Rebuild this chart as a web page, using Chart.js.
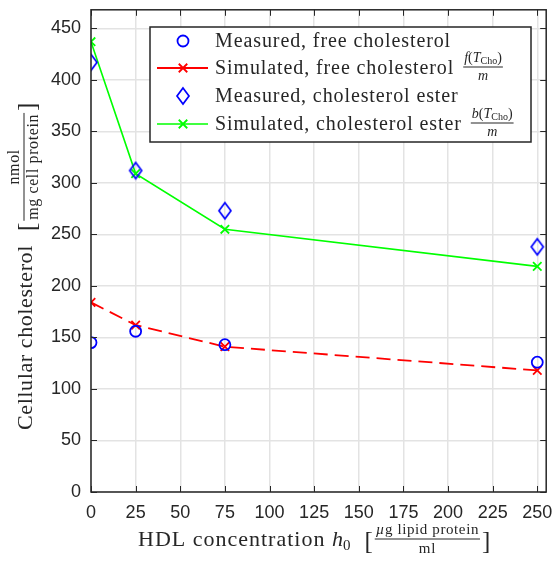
<!DOCTYPE html>
<html>
<head>
<meta charset="utf-8">
<script src="https://cdn.jsdelivr.net/npm/chart.js@4"></script>
<style>
  html, body { margin: 0; padding: 0; background: #fff; }
  #wrap { width: 556px; height: 561px; }
</style>
</head>
<body>
<div id="wrap"><canvas id="chart" width="556" height="561"></canvas></div>
<script>
// HDL concentration (x) and cellular cholesterol readings
const hdl = [0, 25, 75, 250];
const measuredFree = [145, 156, 143, 126];
const simulatedFree = [184, 162, 141, 118];
const measuredEster = [417, 312, 273, 238];
const simulatedEster = [437, 309, 255, 219];

const xTicks = [0, 25, 50, 75, 100, 125, 150, 175, 200, 225, 250];
const yTicks = [0, 50, 100, 150, 200, 250, 300, 350, 400, 450];

const AX = '#262626';
const SERIF = '"Liberation Serif", "Times New Roman", serif';
const SANS = '"Liberation Sans", Arial, sans-serif';

const toPts = (ys) => ys.map((y, i) => ({ x: hdl[i], y }));

// tall hollow diamond marker
function makeDiamond(color) {
  const c = document.createElement('canvas');
  c.width = 18; c.height = 20;
  const g = c.getContext('2d');
  g.strokeStyle = color;
  g.lineWidth = 1.7;
  g.beginPath();
  g.moveTo(9, 2); g.lineTo(15, 10); g.lineTo(9, 18); g.lineTo(3, 10); g.closePath();
  g.stroke();
  return c;
}
const diamond = makeDiamond('#0000ff');

// text runs: {t, f, dy, ls}
function setRun(ctx, r) {
  ctx.font = r.f;
  if ('letterSpacing' in ctx) ctx.letterSpacing = (r.ls || 0) + 'px';
}
function runsWidth(ctx, runs) {
  let w = 0;
  runs.forEach(r => { setRun(ctx, r); w += ctx.measureText(r.t).width; });
  if ('letterSpacing' in ctx) ctx.letterSpacing = '0px';
  return w;
}
function drawRuns(ctx, runs, x, y) {
  runs.forEach(r => {
    setRun(ctx, r);
    ctx.fillText(r.t, x, y + (r.dy || 0));
    x += ctx.measureText(r.t).width;
  });
  if ('letterSpacing' in ctx) ctx.letterSpacing = '0px';
  return x;
}
function fracWidth(ctx, num, den) {
  return Math.max(runsWidth(ctx, num), runsWidth(ctx, den)) + 2;
}
// fraction with its bar on y, starting at x; returns width
function drawFrac(ctx, num, den, x, y, gapUp, gapDown) {
  const w = fracWidth(ctx, num, den);
  const wn = runsWidth(ctx, num), wd = runsWidth(ctx, den);
  ctx.textBaseline = 'alphabetic';
  drawRuns(ctx, num, x + (w - wn) / 2, y - gapUp);
  drawRuns(ctx, den, x + (w - wd) / 2, y + gapDown);
  ctx.fillRect(x, y - 0.5, w, 1);
  return w;
}
// "label [ num/den ]" laid out left to right from x
function drawUnitTitle(ctx, left, num, den, x, y, fracShift) {
  const brk = '25px ' + SERIF;
  ctx.textBaseline = 'alphabetic';
  x = drawRuns(ctx, left, x, y);
  ctx.font = brk;
  const wb = ctx.measureText('[').width;
  x += 14;
  ctx.fillText('[', x, y + 3);
  x += wb + 2;
  x += drawFrac(ctx, num, den, x, y - fracShift, 5, 14) + 2;
  ctx.font = brk;
  ctx.fillText(']', x, y + 3);
}

// axis titles, box, inward ticks and legend
const decorations = {
  id: 'decorations',
  afterDraw(chart) {
    const { ctx, chartArea: a, scales } = chart;
    ctx.save();
    ctx.fillStyle = AX;
    ctx.strokeStyle = AX;

    // box
    ctx.lineWidth = 1.5;
    ctx.strokeRect(a.left, a.top, a.right - a.left, a.bottom - a.top);

    // inward ticks on all sides
    ctx.lineWidth = 1;
    ctx.beginPath();
    xTicks.forEach(v => {
      const px = Math.round(scales.x.getPixelForValue(v)) + 0.5;
      ctx.moveTo(px, a.bottom); ctx.lineTo(px, a.bottom - 6);
      ctx.moveTo(px, a.top); ctx.lineTo(px, a.top + 6);
    });
    yTicks.forEach(v => {
      const py = Math.round(scales.y.getPixelForValue(v)) + 0.5;
      ctx.moveTo(a.left, py); ctx.lineTo(a.left + 6, py);
      ctx.moveTo(a.right, py); ctx.lineTo(a.right - 6, py);
    });
    ctx.stroke();

    const big = '22px ' + SERIF;
    const bigI = 'italic 22px ' + SERIF;

    // x title
    {
      const sm = '15px ' + SERIF, smI = 'italic 15px ' + SERIF;
      const left = [{ t: 'HDL concentration ', f: big, ls: 1 }, { t: 'h', f: bigI }, { t: '0', f: '15px ' + SERIF, dy: 4 }];
      const num = [{ t: 'µ', f: smI, ls: 0.6 }, { t: 'g lipid protein', f: sm, ls: 0.6 }];
      const den = [{ t: 'ml', f: sm, ls: 0.6 }];
      drawUnitTitle(ctx, left, num, den, 138, 546, 7);
    }

    // y title (rotated, reads bottom to top)
    {
      ctx.save();
      ctx.translate(32, 0);
      ctx.rotate(-Math.PI / 2);
      const sm = '16px ' + SERIF;
      const left = [{ t: 'Cellular cholesterol', f: big, ls: 0.6 }];
      const num = [{ t: 'nmol', f: sm, ls: 0.6 }];
      const den = [{ t: 'mg cell protein', f: sm, ls: 0.6 }];
      drawUnitTitle(ctx, left, num, den, -430, 0, 8);
      ctx.restore();
    }

    // legend
    {
      const bx = 150, by = 27, bw = 381, bh = 115;
      ctx.fillStyle = '#fff';
      ctx.fillRect(bx, by, bw, bh);
      ctx.lineWidth = 1.5;
      ctx.strokeStyle = AX;
      ctx.strokeRect(bx, by, bw, bh);

      const rows = chart.data.datasets;
      const rowY = [41, 68, 96, 124];
      rows.forEach((ds, i) => {
        const y = rowY[i];
        if (ds.showLine !== false) {
          ctx.save();
          ctx.strokeStyle = ds.borderColor;
          ctx.lineWidth = ds.borderWidth;
          ctx.beginPath();
          ctx.moveTo(157, y); ctx.lineTo(208, y);
          ctx.stroke();
          ctx.restore();
        }
        ctx.save();
        ctx.strokeStyle = ds.pointBorderColor;
        ctx.fillStyle = 'rgba(0,0,0,0)';
        ctx.lineWidth = ds.pointBorderWidth;
        Chart.helpers.drawPoint(ctx, { pointStyle: ds.pointStyle, radius: ds.pointRadius, borderWidth: ds.pointBorderWidth, rotation: 0 }, 183, y);
        ctx.restore();

        ctx.fillStyle = AX;
        ctx.textBaseline = 'middle';
        const label = [{ t: ds.label, f: '20px ' + SERIF, ls: 0.9 }];
        const x1 = drawRuns(ctx, label, 215, y + 1);
        const fn = ds.fracName;
        if (fn) {
          const s = '14px ' + SERIF, si = 'italic 14px ' + SERIF;
          const num = [{ t: fn, f: si }, { t: '(', f: s }, { t: 'T', f: si }, { t: 'Cho', f: '10px ' + SERIF, dy: 2 }, { t: ')', f: s }];
          const den = [{ t: 'm', f: si }];
          drawFrac(ctx, num, den, x1 + 9, y - 1, 5, 13);
        }
      });
    }
    ctx.restore();
  }
};

// keep the plot box fixed regardless of tick-label overhang
const noOverhang = (s) => { s.paddingLeft = 0; s.paddingRight = 0; s.paddingTop = 0; s.paddingBottom = 0; };

new Chart(document.getElementById('chart'), {
  type: 'line',
  data: {
    datasets: [
      {
        label: 'Measured, free cholesterol',
        data: toPts(measuredFree),
        showLine: false,
        pointStyle: 'circle', pointRadius: 5.5,
        pointBorderColor: '#0000ff', pointBackgroundColor: 'rgba(0,0,0,0)', pointBorderWidth: 1.8,
        borderColor: '#0000ff', order: 1
      },
      {
        label: 'Simulated, free cholesterol',
        fracName: 'f',
        data: toPts(simulatedFree),
        borderColor: '#ff0000', borderWidth: 1.8, borderDash: [14, 7],
        pointStyle: 'crossRot', pointRadius: 6,
        pointBorderColor: '#ff0000', pointBorderWidth: 1.8, order: 2
      },
      {
        label: 'Measured, cholesterol ester',
        data: toPts(measuredEster),
        showLine: false,
        pointStyle: diamond, pointRadius: 8,
        pointBorderColor: '#0000ff', pointBackgroundColor: 'rgba(0,0,0,0)', pointBorderWidth: 1.8,
        borderColor: '#0000ff', order: 3
      },
      {
        label: 'Simulated, cholesterol ester',
        fracName: 'b',
        data: toPts(simulatedEster),
        borderColor: '#00ff00', borderWidth: 1.6,
        pointStyle: 'crossRot', pointRadius: 6,
        pointBorderColor: '#00ff00', pointBorderWidth: 1.8, order: 4
      }
    ]
  },
  options: {
    responsive: false,
    animation: false,
    events: [],
    layout: { padding: { left: 0, right: 8, top: 8, bottom: 0 } },
    plugins: { legend: { display: false }, tooltip: { enabled: false } },
    elements: { line: { tension: 0, fill: false } },
    scales: {
      x: {
        type: 'linear', min: 0, max: 255,
        afterFit: (s) => { s.height = 69; noOverhang(s); },
        afterBuildTicks: (s) => { s.ticks = xTicks.map(v => ({ value: v })); },
        ticks: { font: { family: SANS, size: 18 }, color: AX, padding: 10, maxRotation: 0, autoSkip: false },
        grid: { color: '#e3e3e3', lineWidth: 1.5, drawTicks: false },
        border: { display: false }
      },
      y: {
        type: 'linear', min: 0, max: 468,
        afterFit: (s) => { s.width = 91; noOverhang(s); },
        afterBuildTicks: (s) => { s.ticks = yTicks.map(v => ({ value: v })); },
        ticks: { font: { family: SANS, size: 18 }, color: AX, padding: 10, autoSkip: false },
        grid: { color: '#e3e3e3', lineWidth: 1.5, drawTicks: false },
        border: { display: false }
      }
    }
  },
  plugins: [decorations]
});
</script>
</body>
</html>
